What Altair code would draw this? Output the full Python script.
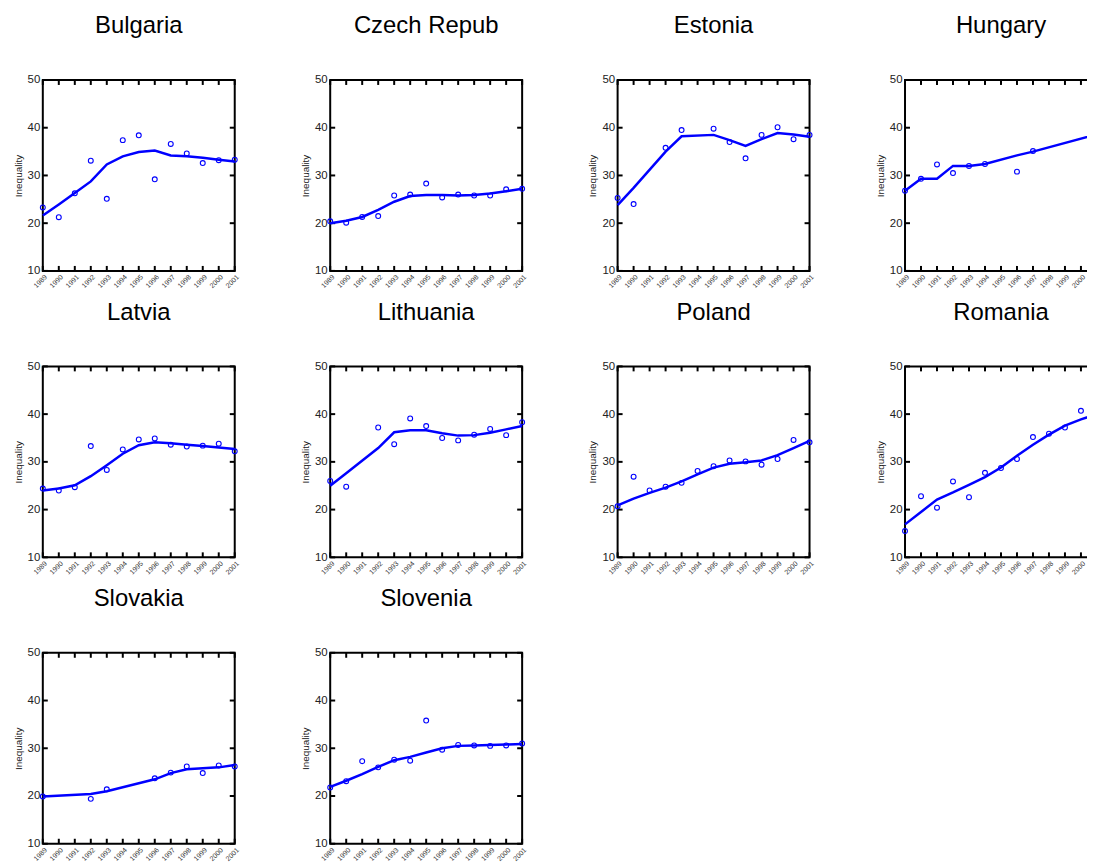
import altair as alt
import pandas as pd

FONT = "Liberation Sans"
BLUE = "#0000ff"

YEARS = [1989, 1990, 1991, 1992, 1993, 1994, 1995, 1996, 1997, 1998, 1999, 2000, 2001]
Y_TICKS = [10, 20, 30, 40, 50]

COUNTRIES = ["Bulgaria", "Czech Repub", "Estonia", "Hungary", "Latvia",
             "Lithuania", "Poland", "Romania", "Slovakia", "Slovenia"]

# observed values (None = no observation)
bulgaria_obs = [23.3, 21.25, 26.25, 33.1, 25.1, 37.4, 38.4, 29.2, 36.6, 34.6, 32.6, 33.2, 33.3]
czech_obs = [20.4, 20.1, 21.3, 21.5, 25.8, 26.0, 28.3, 25.4, 26.0, 25.8, 25.8, 27.1, 27.2]
estonia_obs = [25.3, 24.0, None, 35.8, 39.5, None, 39.8, 37.0, 33.6, 38.5, 40.1, 37.6, 38.5]
hungary_obs = [26.8, 29.3, 32.3, 30.5, 32.0, 32.4, None, 30.8, 35.1, None, None, None, 38.6]
latvia_obs = [24.4, 24.0, 24.7, 33.3, 28.3, 32.6, 34.7, 34.9, 33.6, 33.2, 33.4, 33.8, 32.2]
lithuania_obs = [26.0, 24.8, None, 37.2, 33.7, 39.1, 37.5, 35.0, 34.5, 35.7, 36.9, 35.6, 38.3]
poland_obs = [20.7, 26.9, 24.0, 24.8, 25.6, 28.1, 29.1, 30.3, 30.1, 29.4, 30.6, 34.6, 34.1]
romania_obs = [15.5, 22.8, 20.4, 25.9, 22.6, 27.7, 28.7, 30.6, 35.2, 35.9, 37.2, 40.7, 39.8]
slovakia_obs = [19.9, None, None, 19.4, 21.4, None, None, 23.7, 24.9, 26.2, 24.8, 26.4, 26.2]
slovenia_obs = [21.8, 23.1, 27.3, 26.0, 27.6, 27.4, 35.8, 29.7, 30.7, 30.6, 30.5, 30.6, 31.0]

# smoothed (fitted) values
bulgaria_fit = [21.6, 23.9, 26.3, 28.75, 32.3, 34.0, 34.9, 35.2, 34.2, 34.0, 33.7, 33.3, 32.9]
czech_fit = [20.0, 20.5, 21.3, 22.8, 24.5, 25.7, 25.9, 25.9, 25.8, 25.9, 26.2, 26.7, 27.2]
estonia_fit = [23.8, 27.4, None, 35.0, 38.2, None, 38.5, 37.4, 36.2, 37.6, 38.9, 38.6, 38.1]
hungary_fit = [26.8, 29.3, 29.3, 32.0, 32.0, 32.4, None, 34.2, 35.0, None, None, None, 38.6]
latvia_fit = [24.0, 24.4, 25.1, 27.0, 29.3, 31.7, 33.5, 34.1, 33.9, 33.6, 33.3, 33.0, 32.7]
lithuania_fit = [25.0, 27.6, None, 32.9, 36.2, 36.6, 36.6, 36.0, 35.5, 35.6, 36.1, 36.8, 37.5]
poland_fit = [20.9, 22.3, 23.5, 24.6, 25.9, 27.4, 28.8, 29.6, 29.9, 30.3, 31.4, 32.9, 34.4]
romania_fit = [16.9, 19.5, 22.1, 23.6, 25.2, 26.8, 28.8, 31.3, 33.6, 35.7, 37.6, 38.9, 40.0]
slovakia_fit = [19.9, None, None, 20.4, 21.0, None, None, 23.5, 24.8, 25.6, 25.8, 26.0, 26.5]
slovenia_fit = [21.9, 23.2, 24.6, 26.1, 27.5, 28.2, 29.1, 30.0, 30.5, 30.6, 30.7, 30.8, 30.9]

OBS = [bulgaria_obs, czech_obs, estonia_obs, hungary_obs, latvia_obs,
       lithuania_obs, poland_obs, romania_obs, slovakia_obs, slovenia_obs]
FIT = [bulgaria_fit, czech_fit, estonia_fit, hungary_fit, latvia_fit,
       lithuania_fit, poland_fit, romania_fit, slovakia_fit, slovenia_fit]

W, H = 193, 192
TICK = 5

xs = alt.Scale(domain=[1989, 2001], nice=False, zero=False)
ys = alt.Scale(domain=[10, 50], nice=False, zero=False)

xaxis = alt.Axis(values=YEARS, format="d", labelAngle=-45, labelFontSize=7,
                 labelPadding=2, title=None, labelColor="#333333")
yaxis = alt.Axis(values=Y_TICKS, labelFontSize=11.5, labelPadding=3,
                 title="Inequality", titleFontSize=10, titleFontWeight="normal",
                 titlePadding=4, labelColor="#222222", titleColor="#222222")

xt_df = pd.DataFrame({"year": YEARS})
yt_df = pd.DataFrame({"ineq": Y_TICKS})


def panel(name, obs, fit):
    df = pd.DataFrame({"year": YEARS, "ineq": obs, "fit": fit})
    pts_df = df.dropna(subset=["ineq"])
    fit_df = df.dropna(subset=["fit"])

    X = alt.X("year:Q", scale=xs, axis=xaxis)
    pts = alt.Chart(pts_df).mark_point(shape="circle", filled=False, color=BLUE,
                                       size=24, strokeWidth=1.1, opacity=1).encode(
        x=X, y=alt.Y("ineq:Q", scale=ys, axis=yaxis))
    line = alt.Chart(fit_df).mark_line(color=BLUE, strokeWidth=2.5).encode(
        x=X, y=alt.Y("fit:Q", scale=ys, axis=yaxis))
    ytl = alt.Chart(yt_df).mark_rule(color="black", strokeWidth=2).encode(
        y=alt.Y("ineq:Q", scale=ys, axis=yaxis), x=alt.value(0), x2=alt.value(TICK))
    ytr = alt.Chart(yt_df).mark_rule(color="black", strokeWidth=2).encode(
        y=alt.Y("ineq:Q", scale=ys, axis=yaxis), x=alt.value(W - TICK), x2=alt.value(W))
    xtt = alt.Chart(xt_df).mark_rule(color="black", strokeWidth=2).encode(
        x=X, y=alt.value(0), y2=alt.value(TICK))
    xtb = alt.Chart(xt_df).mark_rule(color="black", strokeWidth=2).encode(
        x=X, y=alt.value(H - TICK), y2=alt.value(H))
    return alt.layer(ytl, ytr, xtt, xtb, line, pts).properties(
        width=W, height=H,
        title=alt.TitleParams(text=name, fontSize=24, font=FONT, fontWeight="normal",
                              anchor="middle", offset=36, color="black"))


panels = [panel(n, o, f) for n, o, f in zip(COUNTRIES, OBS, FIT)]

chart = alt.concat(*panels, columns=4, spacing=96, bounds="flush").properties(
    padding={"left": 4, "top": 3, "right": -16, "bottom": 0}
).configure_view(stroke="black", strokeWidth=2).configure_axis(
    domain=False, ticks=False, grid=False, labelFont=FONT, titleFont=FONT
).configure_title(font=FONT)

chart.save("out.html", embed_options={"renderer": "svg", "actions": False})
